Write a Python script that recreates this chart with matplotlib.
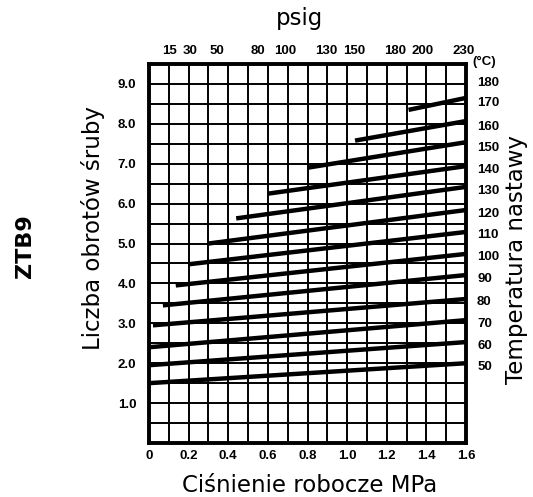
import matplotlib
matplotlib.use("Agg")
import matplotlib.pyplot as plt
import numpy as np

# --- data ---
temps = [50, 60, 70, 80, 90, 100, 110, 120, 130, 140, 150, 160, 170]
x_start = [0.0, 0.0, 0.0, 0.02, 0.07, 0.135, 0.2, 0.3, 0.44, 0.6, 0.8, 1.04, 1.31]
y_start = [1.5, 1.95, 2.4, 2.95, 3.45, 3.95, 4.48, 5.0, 5.63, 6.25, 6.9, 7.58, 8.35]
x_end = 1.6
y_end = [2.0, 2.53, 3.08, 3.61, 4.21, 4.74, 5.29, 5.84, 6.42, 6.94, 7.54, 8.07, 8.65]
right_labels = [50, 60, 70, 80, 90, 100, 110, 120, 130, 140, 150, 160, 170, 180]
right_label_vals = [1.95, 2.48, 3.03, 3.57, 4.14, 4.7, 5.25, 5.77, 6.35, 6.89, 7.43, 7.97, 8.55, 9.05]
psig_ticks = [15, 30, 50, 80, 100, 130, 150, 180, 200, 230]
x_ticks = [0, 0.2, 0.4, 0.6, 0.8, 1.0, 1.2, 1.4, 1.6]
x_ticklabels = ["0", "0.2", "0.4", "0.6", "0.8", "1.0", "1.2", "1.4", "1.6"]
y_ticks = [1, 2, 3, 4, 5, 6, 7, 8, 9]
y_ticklabels = ["1.0", "2.0", "3.0", "4.0", "5.0", "6.0", "7.0", "8.0", "9.0"]

fig = plt.figure(figsize=(5.33, 4.97), dpi=100)
ax = fig.add_axes([149/533, 54/497, 317/533, 379/497])
ax.set_xlim(0, 1.6)
ax.set_ylim(0, 9.5)

# grid
for gx in np.arange(0.1, 1.6, 0.1):
    ax.axvline(gx, color="black", lw=1.4, zorder=1)
for gy in np.arange(0.5, 9.5, 0.5):
    ax.axhline(gy, color="black", lw=1.4, zorder=1)

for xs, ys, ye in zip(x_start, y_start, y_end):
    ax.plot([xs, x_end], [ys, ye], color="black", lw=3.2, solid_capstyle="butt", zorder=3)

for s in ax.spines.values():
    s.set_linewidth(2.8)

tick_font = dict(family=["Liberation Sans Narrow", "Liberation Sans"], size=9.5, weight="bold")
ax.set_xticks(x_ticks)
ax.set_xticklabels(x_ticklabels, fontdict=tick_font)
ax.set_yticks(y_ticks)
ax.set_yticklabels(y_ticklabels, fontdict=tick_font)
ax.tick_params(axis="x", length=0, pad=5)
ax.tick_params(axis="y", length=0, pad=9)

# top psig axis
top = ax.twiny()
top.set_xlim(0, 1.6)
top.set_xticks([p * 0.0068948 for p in psig_ticks])
top.set_xticklabels([str(p) for p in psig_ticks], fontdict=tick_font)
top.tick_params(axis="x", length=0, pad=5)
for s in top.spines.values():
    s.set_visible(False)

# right temperature axis
right = ax.twinx()
right.set_ylim(0, 9.5)
right.set_yticks(right_label_vals)
right.set_yticklabels([str(t) for t in right_labels], fontdict=tick_font)
right.tick_params(axis="y", length=0, pad=8)
for s in right.spines.values():
    s.set_visible(False)

title_font = dict(family="DejaVu Sans", size=16.5)
fig.text(300/533, 1 - 18/497, "psig", ha="center", va="center", **title_font)
fig.text(310/533, 1 - 486/497, "Ciśnienie robocze MPa", ha="center", va="center", **title_font)
fig.text(93/533, 1 - 228/497, "Liczba obrotów śruby", ha="center", va="center", rotation=90, **title_font)
fig.text(517/533, 1 - 260/497, "Temperatura nastawy", ha="center", va="center", rotation=90, **title_font)
fig.text(25/533, 1 - 246/497, "ZTB9", ha="center", va="center", rotation=90,
         family="DejaVu Sans", size=16, weight="bold")
fig.text(484/533, 1 - 62/497, "(°C)", ha="center", va="center",
         family=["Liberation Sans Narrow", "Liberation Sans"], size=9.5, weight="bold")

fig.savefig("out.png", dpi=100)
